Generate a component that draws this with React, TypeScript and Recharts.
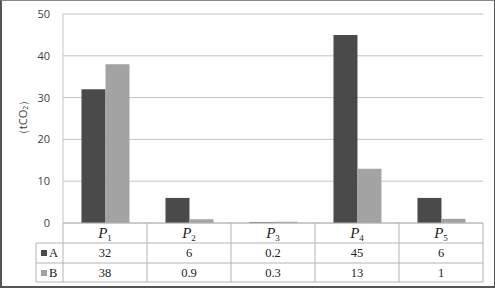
import { BarChart, Bar, XAxis, YAxis, CartesianGrid } from "recharts";

const CATEGORIES = ["1", "2", "3", "4", "5"];
const SERIES_A = [32, 6, 0.2, 45, 6];
const SERIES_B = [38, 0.9, 0.3, 13, 1];
const SERIES_NAMES = ["A", "B"];
const Y_TICKS = [0, 10, 20, 30, 40, 50];

const COLOR_A = "#4a4a4a";
const COLOR_B = "#a3a3a3";
const LINE = "#b4b4b4";
const SERIF = "'Liberation Serif', 'Times New Roman', serif";

const W = 495;
const H = 288;
const MARGIN = { top: 14, right: 12, bottom: 6, left: 0 };
const Y_AXIS_W = 63;
const TABLE_H = 59;
const COL_W = (W - MARGIN.left - MARGIN.right - Y_AXIS_W) / CATEGORIES.length;
const ROW_H = [20, 20, 19];

const data = CATEGORIES.map((c, i) => ({ cat: c, A: SERIES_A[i], B: SERIES_B[i] }));

function TableTick(props: any) {
  const { x, y, payload } = props;
  const i = payload.index;
  const left = x - COL_W / 2;
  const right = x + COL_W / 2;
  const r1 = y + ROW_H[0];
  const r2 = r1 + ROW_H[1];
  const r3 = r2 + ROW_H[2];
  return (
    <g>
      <text x={x} y={y + 15} textAnchor="middle" fontFamily={SERIF} fill="#222">
        <tspan fontStyle="italic" fontSize={15}>P</tspan>
        <tspan fontSize={9} dy={3}>{payload.value}</tspan>
      </text>
      <text x={x} y={r1 + 14} textAnchor="middle" fontFamily={SERIF} fontSize={12.5} fill="#222">
        {SERIES_A[i]}
      </text>
      <text x={x} y={r2 + 14} textAnchor="middle" fontFamily={SERIF} fontSize={12.5} fill="#222">
        {SERIES_B[i]}
      </text>
      <line x1={left} x2={right} y1={r1} y2={r1} stroke={LINE} />
      <line x1={left} x2={right} y1={r2} y2={r2} stroke={LINE} />
      <line x1={left} x2={right} y1={r3} y2={r3} stroke={LINE} />
      <line x1={right} x2={right} y1={y} y2={r3} stroke={LINE} />
      {i === 0 && (
        <g>
          <line x1={left} x2={left} y1={y} y2={r3} stroke={LINE} />
          <line x1={left - 27} x2={left} y1={r1} y2={r1} stroke={LINE} />
          <line x1={left - 27} x2={left} y1={r2} y2={r2} stroke={LINE} />
          <line x1={left - 27} x2={left} y1={r3} y2={r3} stroke={LINE} />
          <line x1={left - 27} x2={left - 27} y1={r1} y2={r3} stroke={LINE} />
          {SERIES_NAMES.map((n, k) => (
            <g key={n}>
              <rect x={left - 22} y={(k ? r2 : r1) + 7} width={6} height={6} fill={k ? COLOR_B : COLOR_A} />
              <text x={left - 14} y={(k ? r2 : r1) + 14} fontFamily={SERIF} fontSize={12.5} fill="#222">
                {n}
              </text>
            </g>
          ))}
        </g>
      )}
    </g>
  );
}

function YLabel(props: any) {
  const { viewBox } = props;
  const cx = viewBox.x + 22;
  const cy = viewBox.y + viewBox.height / 2 - 1;
  return (
    <text
      x={cx}
      y={cy}
      transform={`rotate(-90 ${cx} ${cy})`}
      textAnchor="middle"
      dominantBaseline="central"
      fontFamily="'Open Sans', sans-serif"
      fontSize={11}
      fill="#404040"
    >
      （tCO<tspan fontSize={7} dy={3}>2</tspan>
      <tspan dy={-3}>）</tspan>
    </text>
  );
}

export default function App() {
  return (
    <div style={{ position: "absolute", left: 0, top: 0, width: W, height: H, background: "#fff" }}>
      <BarChart width={W} height={H} data={data} margin={MARGIN} barCategoryGap="22%" barGap={0}>
        <CartesianGrid vertical={false} stroke="#c4c4c4" />
        <XAxis
          dataKey="cat"
          interval={0}
          height={TABLE_H}
          tickSize={0}
          tickMargin={0}
          tickLine={false}
          axisLine={{ stroke: LINE }}
          tick={<TableTick />}
        />
        <YAxis
          width={Y_AXIS_W}
          domain={[0, 50]}
          ticks={Y_TICKS}
          tickLine={false}
          axisLine={{ stroke: "#c4c4c4" }}
          tickMargin={7}
          tick={{ fontSize: 11, fill: "#404040", fontFamily: "'Open Sans', sans-serif" }}
          label={<YLabel />}
        />
        <Bar dataKey="A" fill={COLOR_A} isAnimationActive={false} />
        <Bar dataKey="B" fill={COLOR_B} isAnimationActive={false} />
      </BarChart>
      <div
        style={{
          position: "absolute",
          inset: 0,
          borderTop: "1px solid #888",
          borderLeft: "2px solid #555",
          borderRight: "1px solid #555",
          borderBottom: "2px solid #555",
          pointerEvents: "none",
        }}
      />
    </div>
  );
}
